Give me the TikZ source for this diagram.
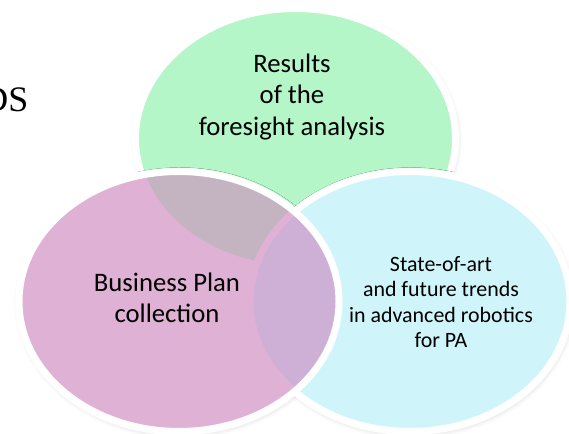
\documentclass[tikz,border=0pt]{standalone}
\usepackage{fontspec}
\setmainfont{Carlito}
\newfontfamily\titlefont{Liberation Serif}
\usetikzlibrary{shapes, positioning, shadows.blur}
\definecolor{greenfill}{RGB}{181,246,201}
\definecolor{cyanfill}{RGB}{207,245,250}
\definecolor{pinkfill}{RGB}{223,177,212}
\definecolor{greenpink}{RGB}{196,180,194}
\definecolor{cyanpink}{RGB}{206,176,214}
\tikzset{node distance=231bp,
    bubble/.style={ellipse, draw=white, line width=7bp, inner sep=0pt,
        minimum width=320bp, minimum height=260bp,
        blur shadow={shadow xshift=1bp, shadow yshift=-2bp, shadow blur radius=6bp, shadow opacity=20}},
    bigtext/.style={align=center, font=\fontsize{26.8}{31.5}\selectfont},
    smalltext/.style={align=center, font=\fontsize{22}{25.5}\selectfont}}

\begin{document}
\begin{tikzpicture}[x=1bp, y=1bp]
    \useasboundingbox (0,0) rectangle (569,434);
    \node[bubble, fill=greenfill] (foresight) at (295.5,295.5) {};
    \node[bubble, fill=pinkfill] (business) at (179,132.5) {};
    \node[bubble, fill=cyanfill, right of=business] (robotics) {};
    % pink lies over the two others
    \fill[pinkfill] (business.center) ellipse [x radius=160bp, y radius=130bp];
    \begin{scope}
        \clip (business.center) ellipse [x radius=160bp, y radius=130bp];
        \fill[greenpink] (foresight.center) ellipse [x radius=160bp, y radius=130bp];
        \draw[pinkfill, line width=7bp] (foresight.center) ellipse [x radius=160bp, y radius=130bp];
        \fill[cyanpink] (robotics.center) ellipse [x radius=160bp, y radius=130bp];
        \draw[pinkfill, line width=7bp] (robotics.center) ellipse [x radius=160bp, y radius=130bp];
    \end{scope}
    \draw[white, line width=7bp] (business.center) ellipse [x radius=160bp, y radius=130bp];
    \node[bigtext] (results) at (292,337) {Results\\of the\\foresight analysis};
    \node[bigtext] (plan) at (167,136) {Business Plan\\collection};
    \node[smalltext] (trends) at (441,132) {State-of-art\\and future trends\\in advanced robotics\\for PA};
    \node[anchor=base east, font=\titlefont\fontsize{36}{40}\selectfont, inner sep=0pt] (title) at (28.5,322) {DS};
\end{tikzpicture}
\end{document}
